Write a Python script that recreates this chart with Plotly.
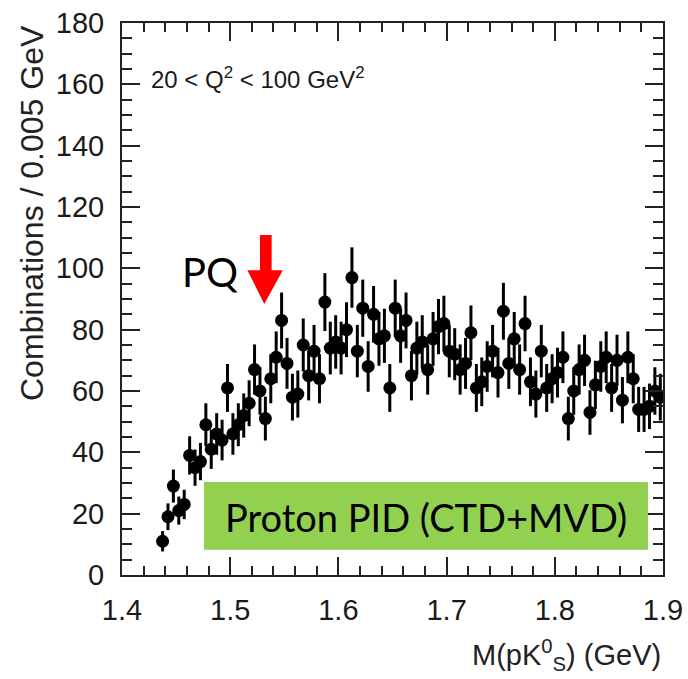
import numpy as np
import plotly.graph_objects as go

# Bin centres (GeV), 0.005 GeV bins
mass = [1.4375, 1.4425, 1.4475, 1.4525, 1.4575, 1.4625, 1.4675, 1.4725, 1.4775, 1.4825,
        1.4875, 1.4925, 1.4975, 1.5025, 1.5075, 1.5125, 1.5175, 1.5225, 1.5275, 1.5325,
        1.5375, 1.5425, 1.5475, 1.5525, 1.5575, 1.5625, 1.5675, 1.5725, 1.5775, 1.5825,
        1.5875, 1.5925, 1.5975, 1.6025, 1.6075, 1.6125, 1.6175, 1.6225, 1.6275, 1.6325,
        1.6375, 1.6425, 1.6475, 1.6525, 1.6575, 1.6625, 1.6675, 1.6725, 1.6775, 1.6825,
        1.6875, 1.6925, 1.6975, 1.7025, 1.7075, 1.7125, 1.7175, 1.7225, 1.7275, 1.7325,
        1.7375, 1.7425, 1.7475, 1.7525, 1.7575, 1.7625, 1.7675, 1.7725, 1.7775, 1.7825,
        1.7875, 1.7925, 1.7975, 1.8025, 1.8075, 1.8125, 1.8175, 1.8225, 1.8275, 1.8325,
        1.8375, 1.8425, 1.8475, 1.8525, 1.8575, 1.8625, 1.8675, 1.8725, 1.8775, 1.8825,
        1.8875, 1.8925, 1.8975]

counts = [11, 19, 29, 21, 23, 39, 35, 37, 49, 41,
          46, 44, 61, 46, 49, 52, 56, 67, 60, 51,
          64, 71, 83, 69, 58, 59, 75, 65, 73, 64,
          89, 74, 76, 74, 80, 97, 73, 87, 68, 85,
          77, 78, 61, 87, 78, 83, 65, 74, 76, 67,
          77, 81, 82, 73, 72, 67, 69, 79, 61, 63,
          68, 73, 66, 86, 69, 77, 67, 82, 63, 59,
          73, 61, 64, 66, 71, 51, 60, 67, 70, 53,
          62, 68, 71, 61, 70, 57, 71, 64, 54, 54,
          55, 60, 58]

errors = np.sqrt(np.array(counts, dtype=float))

x_ticks = [1.4, 1.5, 1.6, 1.7, 1.8, 1.9]
x_tick_labels = ["1.4", "1.5", "1.6", "1.7", "1.8", "1.9"]
y_ticks = [0, 20, 40, 60, 80, 100, 120, 140, 160, 180]

AX_FONT = "Liberation Sans, Arial, sans-serif"
CAL_FONT = "Lato, Carlito, Calibri, sans-serif"

fig = go.Figure()
fig.add_trace(go.Scatter(
    x=mass, y=counts, mode="markers",
    marker=dict(color="black", size=13, symbol="circle"),
    error_y=dict(type="data", array=errors, visible=True, color="black",
                 thickness=3, width=0),
    showlegend=False, hoverinfo="x+y",
))

# Green label box
fig.add_shape(type="rect", xref="x", yref="y", x0=1.4758, x1=1.8861, y0=8.2, y1=30.3,
              fillcolor="#92D050", line=dict(width=0), layer="above")

# Red arrow (shaft + head)
fig.add_shape(type="path", xref="x", yref="y",
              path="M 1.5275 110.9 L 1.5383 110.9 L 1.5383 99.4 L 1.5486 99.4 "
                   "L 1.5315 88.4 L 1.5159 99.4 L 1.5275 99.4 Z",
              fillcolor="#FF0000", line=dict(width=0), layer="above")

annotations = [
    dict(text="Proton PID (CTD+MVD)", x=1.6805, y=18.8, xref="x", yref="y",
         showarrow=False, font=dict(family=CAL_FONT, size=38, color="black")),
    dict(text="PQ", x=1.4537, y=98.8, xref="x", yref="y", xanchor="left",
         showarrow=False, font=dict(family=CAL_FONT, size=40, color="black")),
    dict(text="20 < Q<sup>2</sup> < 100 GeV<sup>2</sup>", x=1.4245, y=162,
         xref="x", yref="y", xanchor="left", showarrow=False,
         font=dict(family=AX_FONT, size=24, color="#1a1a1a")),
    dict(text="Combinations / 0.005 GeV", x=0, y=1.0, xref="paper", yref="paper",
         xshift=-90, textangle=-90, xanchor="center", yanchor="top", showarrow=False,
         font=dict(family=AX_FONT, size=32, color="#222222")),
    dict(text="M(pK<sup>0</sup><sub>S</sub>) (GeV)", x=1.0, y=-0.145,
         xref="paper", yref="paper", xanchor="right", yanchor="middle",
         showarrow=False, font=dict(family=AX_FONT, size=29, color="#222222")),
]

fig.update_layout(
    width=688, height=679,
    margin=dict(l=122, r=25, t=23, b=104),
    plot_bgcolor="white", paper_bgcolor="white",
    annotations=annotations,
    xaxis=dict(range=[1.4, 1.9], tickvals=x_ticks, ticktext=x_tick_labels,
               automargin=False,
               ticks="inside", ticklen=18, tickwidth=2, tickcolor="#222",
               showline=True, linecolor="#222", linewidth=2, mirror="allticks",
               showgrid=False, zeroline=False,
               tickfont=dict(family=AX_FONT, size=29, color="#1a1a1a"),
               ticklabelstandoff=8,
               minor=dict(dtick=0.02, ticks="inside", ticklen=9, tickwidth=2,
                          tickcolor="#222", showgrid=False)),
    yaxis=dict(range=[0, 180], tickvals=y_ticks,
               automargin=False,
               ticks="inside", ticklen=18, tickwidth=2, tickcolor="#222",
               showline=True, linecolor="#222", linewidth=2, mirror="allticks",
               showgrid=False, zeroline=False,
               tickfont=dict(family=AX_FONT, size=29, color="#1a1a1a"),
               ticklabelstandoff=10,
               minor=dict(dtick=5, ticks="inside", ticklen=10, tickwidth=2,
                          tickcolor="#222", showgrid=False)),
)

fig.write_html(
    "out.html",
    config={"displayModeBar": False},
    post_script="document.body.style.margin='0';document.body.style.overflow='hidden';",
)
